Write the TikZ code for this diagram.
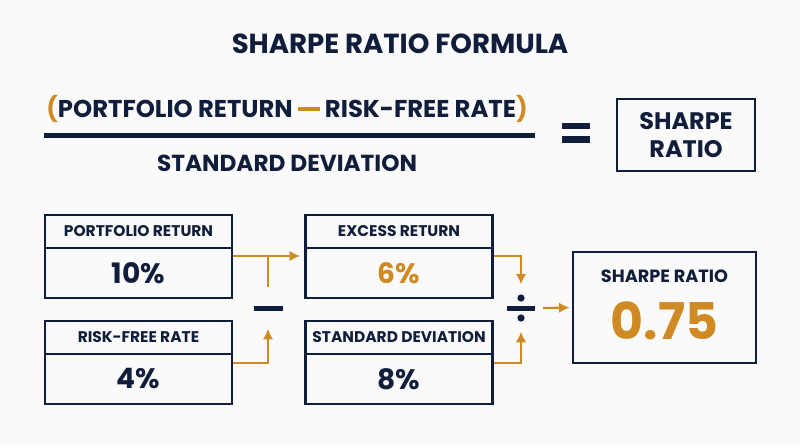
\documentclass[tikz,border=0pt]{standalone}
\usepackage{fontspec}
\setmainfont{Poppins}
\usetikzlibrary{arrows.meta}
\definecolor{navy}{HTML}{111E3B}
\definecolor{gold}{HTML}{D08A23}
\definecolor{paper}{HTML}{FAFAFB}

\tikzset{
  hdr/.style={draw=navy, line width=2pt, minimum width=4.675cm, minimum height=0.825cm,
              inner sep=0pt, text=navy, font=\fontsize{11}{13}\selectfont\bfseries},
  val/.style={draw=navy, line width=2pt, minimum width=4.675cm, minimum height=1.25cm,
              inner sep=0pt, text=navy, font=\fontsize{20}{24}\selectfont\bfseries},
  opbar/.style={fill=navy, minimum height=0.125cm, inner sep=0pt},
  link/.style={draw=gold, line width=1.5pt},
  flow/.style={link, -{Latex[length=7.5pt,width=7.5pt]}}
}

\begin{document}
\begin{tikzpicture}[x=0.025cm,y=-0.025cm]
   \fill[paper] (0,0) rectangle (800,447);
   \useasboundingbox (0,0) rectangle (800,447);

   % title and formula
   \node[text=navy, font=\fontsize{19.6}{23}\selectfont\bfseries] (title) at (400,44) {SHARPE RATIO FORMULA};
   \node[text=navy, font=\fontsize{17.3}{20}\selectfont\bfseries] (num) at (287,109)
     {{\color{gold}(}PORTFOLIO RETURN \textcolor{gold}{\raisebox{4.6pt}{\rule{15.6pt}{2.8pt}}} RISK-FREE RATE{\color{gold})}};
   \fill[navy] (44,133) rectangle (535,138);
   \node[text=navy, font=\fontsize{16.5}{19}\selectfont\bfseries] (den) at (287,163) {STANDARD DEVIATION};
   \node[opbar, minimum width=0.7cm, minimum height=0.15cm] (eq1) at (576,126) {};
   \node[opbar, minimum width=0.7cm, minimum height=0.17cm] (eq2) at (576,139.5) {};
   \node[draw=navy, line width=2pt, minimum width=3.45cm, minimum height=1.8cm, align=center,
         text=navy, font=\fontsize{17}{19.5}\selectfont\bfseries] (srtop) at (686,135) {SHARPE\\RATIO};

   % input boxes
   \node[hdr] (prh) at (138.5,231.5) {PORTFOLIO RETURN};
   \node[val] (prv) at (138.5,273) {10\%};
   \node[hdr] (rfh) at (138.5,337.5) {RISK-FREE RATE};
   \node[val] (rfv) at (138.5,379) {4\%};
   \node[hdr] (erh) at (399,231.5) {EXCESS RETURN};
   \node[val, text=gold] (erv) at (399,273) {6\%};
   \node[hdr] (sdh) at (399,337.5) {STANDARD DEVIATION};
   \node[val] (sdv) at (399,379) {8\%};

   % operators
   \node[opbar, minimum width=0.725cm, outer ysep=0.46cm] (minus) at (268,308) {};
   \coordinate (tee) at (268,256);
   \node[opbar, minimum width=0.7cm, outer xsep=0.2cm, outer ysep=0.53cm] (divide) at (521,308) {};
   \fill[navy] ([yshift=0.25cm]divide.center) circle (0.09cm);
   \fill[navy] ([yshift=-0.25cm]divide.center) circle (0.09cm);

   % result
   \node[draw=navy, line width=2pt, minimum width=4.575cm, minimum height=2.775cm] (srbox) at (664.5,307.5) {};
   \node[text=navy, font=\fontsize{12.6}{15}\selectfont\bfseries] (srlab) at (664.5,276) {SHARPE RATIO};
   \node[text=gold, font=\fontsize{36}{40}\selectfont\bfseries] (srval) at (664.5,321) {0.75};

   % connectors
   \draw[flow, shorten >=0.1cm] ([yshift=0.425cm]prv.east) -- ([yshift=0.425cm]erv.west);
   \draw[link] (tee) -- (minus.north);
   \draw[flow] ([yshift=0.4cm]rfv.east) -| (minus.south);
   \draw[flow] ([yshift=0.425cm]erv.east) -| (divide.north);
   \draw[flow] ([yshift=0.4cm]sdv.east) -| (divide.south);
   \draw[flow, shorten >=0.05cm] (divide.east) -- (srbox.west);
\end{tikzpicture}
\end{document}
